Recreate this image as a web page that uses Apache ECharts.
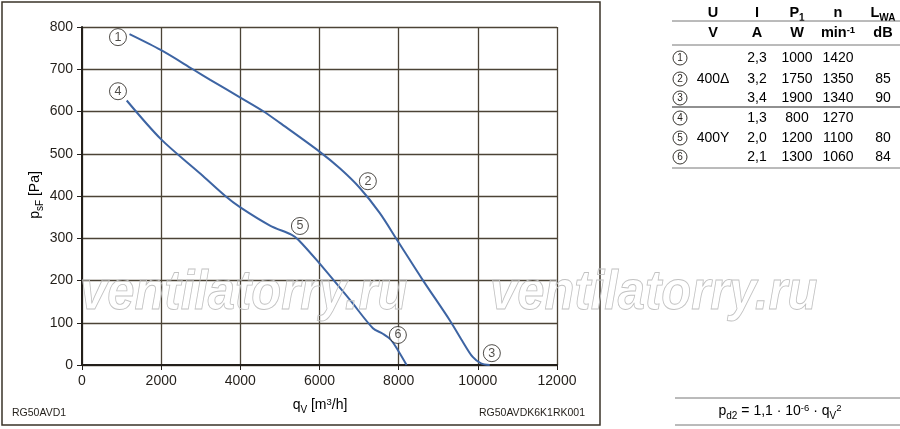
<!DOCTYPE html>
<html>
<head>
<meta charset="utf-8">
<script src="https://cdn.jsdelivr.net/npm/echarts@6/dist/echarts.min.js"></script>
<style>
    html,body{margin:0;padding:0;background:#fff}
    #chart{width:900px;height:429px}
</style>
</head>
<body>
<div id="chart"></div>
<script>
    // curves: [qV m3/h, psF Pa]
    var curveDelta = [[1200,783],[2000,745],[2800,700],[3240,675],[4000,633],[4590,600],[5000,573],[6000,505],[6520,465],[7020,419],[7520,360],[7960,296],[8610,201],[9290,106],[9600,58],[9870,19],[10080,4],[10300,0]];
    var curveStar = [[1130,626],[2000,534],[3000,452],[3620,400],[4000,373],[4750,330],[5300,308],[5470,296],[5930,248],[6770,154],[7350,87],[7600,74],[7800,60],[8000,32],[8200,0]];
    // operating point markers
    var pointNames = ['1','2','3','4','5','6'];
    var pointQ = [909,7222,10354,909,5505,7980];
    var pointP = [776,435,28,648,329,71];

    // table on the right
    var tableI = ['2,3','3,2','3,4','1,3','2,0','2,1'];
    var tableP = ['1000','1750','1900','800','1200','1300'];
    var tableN = ['1420','1350','1340','1270','1100','1060'];
    var tableL = ['','85','90','','80','84'];
    var tableU = ['','400Δ','','','400Y',''];

    var font = 'Liberation Sans';
    var ink = '#231f1a';
    var chart = echarts.init(document.getElementById('chart'));

    var g = [];
    // outer frame
    g.push({type:'rect', shape:{x:2,y:2,width:598,height:423}, style:{fill:'rgba(0,0,0,0)',stroke:'#3a3328',lineWidth:1.5}, z:1});
    // watermark (outlined text)
    [80, 490].forEach(function (wx) {
        g.push({type:'text', x:wx, y:266, scaleX:0.89, style:{text:'ventilatorry.ru', font:'italic bold 55px "Liberation Sans"', fill:'rgba(255,255,255,0)', stroke:'#c2c2c2', lineWidth:0.9, verticalAlign:'top'}, z:5});
    });

    var rich = {
        n:{fontSize:14, fontFamily:font, color:ink, lineHeight:20, verticalAlign:'middle'},
        b:{fontSize:14.5, fontFamily:font, color:ink, fontWeight:'bold', lineHeight:20, verticalAlign:'middle'},
        sub:{fontSize:10, fontFamily:font, color:ink, lineHeight:18, verticalAlign:'bottom'},
        subb:{fontSize:10, fontFamily:font, color:ink, fontWeight:'bold', lineHeight:18, verticalAlign:'bottom'},
        sup:{fontSize:9.5, fontFamily:font, color:ink, lineHeight:20, verticalAlign:'top', padding:[2,0,0,0]},
        supb:{fontSize:9.5, fontFamily:font, color:ink, fontWeight:'bold', lineHeight:20, verticalAlign:'top', padding:[2,0,0,0]}
    };
    function rt(x, y, text, align, rot) {
        return {type:'text', x:x, y:y, rotation:rot || 0, style:{text:text, rich:rich, align:align || 'center', verticalAlign:'middle'}, z:10};
    }
    // axis names
    g.push(rt(35, 195, '{n|p}{sub|sF}{n| [Pa]}', 'center', Math.PI / 2));
    g.push(rt(320, 405, '{n|q}{sub|V}{n| [m}{sup|3}{n|/h]}', 'center'));
    g.push({type:'text', x:12, y:413, style:{text:'RG50AVD1', fontSize:10.5, fontFamily:font, fill:ink, verticalAlign:'middle'}, z:10});
    g.push({type:'text', x:585, y:413, style:{text:'RG50AVDK6K1RK001', fontSize:10.5, fontFamily:font, fill:ink, align:'right', verticalAlign:'middle'}, z:10});

    // table
    var cols = [713, 757, 797, 838, 883];
    var head1 = ['{b|U}', '{b|I}', '{b|P}{subb|1}', '{b|n}', '{b|L}{subb|WA}'];
    var head2 = ['{b|V}', '{b|A}', '{b|W}', '{b|min}{supb|-1}', '{b|dB}'];
    var rowsY = [58, 79, 98, 118, 138, 157];
    for (var c = 0; c < cols.length; c++) {
        g.push(rt(cols[c], 13, head1[c]));
        g.push(rt(cols[c], 33, head2[c]));
    }
    [21, 45, 107, 168].forEach(function (y, k) {
        g.push({type:'line', shape:{x1:672,y1:y,x2:900,y2:y}, style:{stroke:k === 2 ? '#222' : '#777', lineWidth:k === 2 ? 1.2 : 1}, z:10});
    });
    for (var r = 0; r < rowsY.length; r++) {
        var y = rowsY[r];
        g.push({type:'circle', shape:{cx:680, cy:y, r:7}, style:{fill:'#fff', stroke:ink, lineWidth:0.9}, z:10});
        g.push({type:'text', x:680, y:y, style:{text:pointNames[r], fontSize:10, fontFamily:font, fill:ink, align:'center', verticalAlign:'middle'}, z:11});
        var vals = [tableU[r], tableI[r], tableP[r], tableN[r], tableL[r]];
        for (var c2 = 0; c2 < vals.length; c2++) {
            if (vals[c2]) g.push(rt(cols[c2], y, '{n|' + vals[c2] + '}'));
        }
    }
    // formula box
    g.push({type:'line', shape:{x1:675,y1:398,x2:900,y2:398}, style:{stroke:'#777',lineWidth:1}, z:10});
    g.push({type:'line', shape:{x1:675,y1:425,x2:900,y2:425}, style:{stroke:'#777',lineWidth:1}, z:10});
    g.push(rt(780, 411, '{n|p}{sub|d2}{n| = 1,1 · 10}{sup|-6}{n| · q}{sub|V}{sup|2}'));

    function axisCommon() {
        return {
            axisLine:{show:true, onZero:false, lineStyle:{color:ink, width:2}},
            axisTick:{show:true, length:5, lineStyle:{color:ink, width:1}},
            splitLine:{show:true, lineStyle:{color:'#4b4336', width:1.3}},
            axisLabel:{fontSize:14, fontFamily:font, color:ink, margin:9, formatter:function (v) { return String(v); }}
        };
    }

    var option = {
        animation:false,
        backgroundColor:'#fff',
        grid:{left:82, right:343, top:27, bottom:64},
        xAxis:Object.assign({type:'value', min:0, max:12000, interval:2000}, axisCommon()),
        yAxis:Object.assign({type:'value', min:0, max:800, interval:100}, axisCommon()),
        graphic:g,
        series:[
            {type:'line', data:curveDelta, smooth:0.3, showSymbol:false, lineStyle:{color:'#3d64a3', width:2}, z:3},
            {type:'line', data:curveStar, smooth:0.3, showSymbol:false, lineStyle:{color:'#3d64a3', width:2}, z:3},
            {
                type:'scatter', z:6,
                data:pointNames.map(function (n, i) { return {name:n, value:[pointQ[i], pointP[i]]}; }),
                symbol:'circle', symbolSize:17,
                itemStyle:{color:'#fff', borderColor:ink, borderWidth:1},
                label:{show:true, position:'inside', formatter:'{b}', fontSize:12.5, fontFamily:font, color:ink}
            }
        ]
    };
    chart.setOption(option);
</script>
</body>
</html>
